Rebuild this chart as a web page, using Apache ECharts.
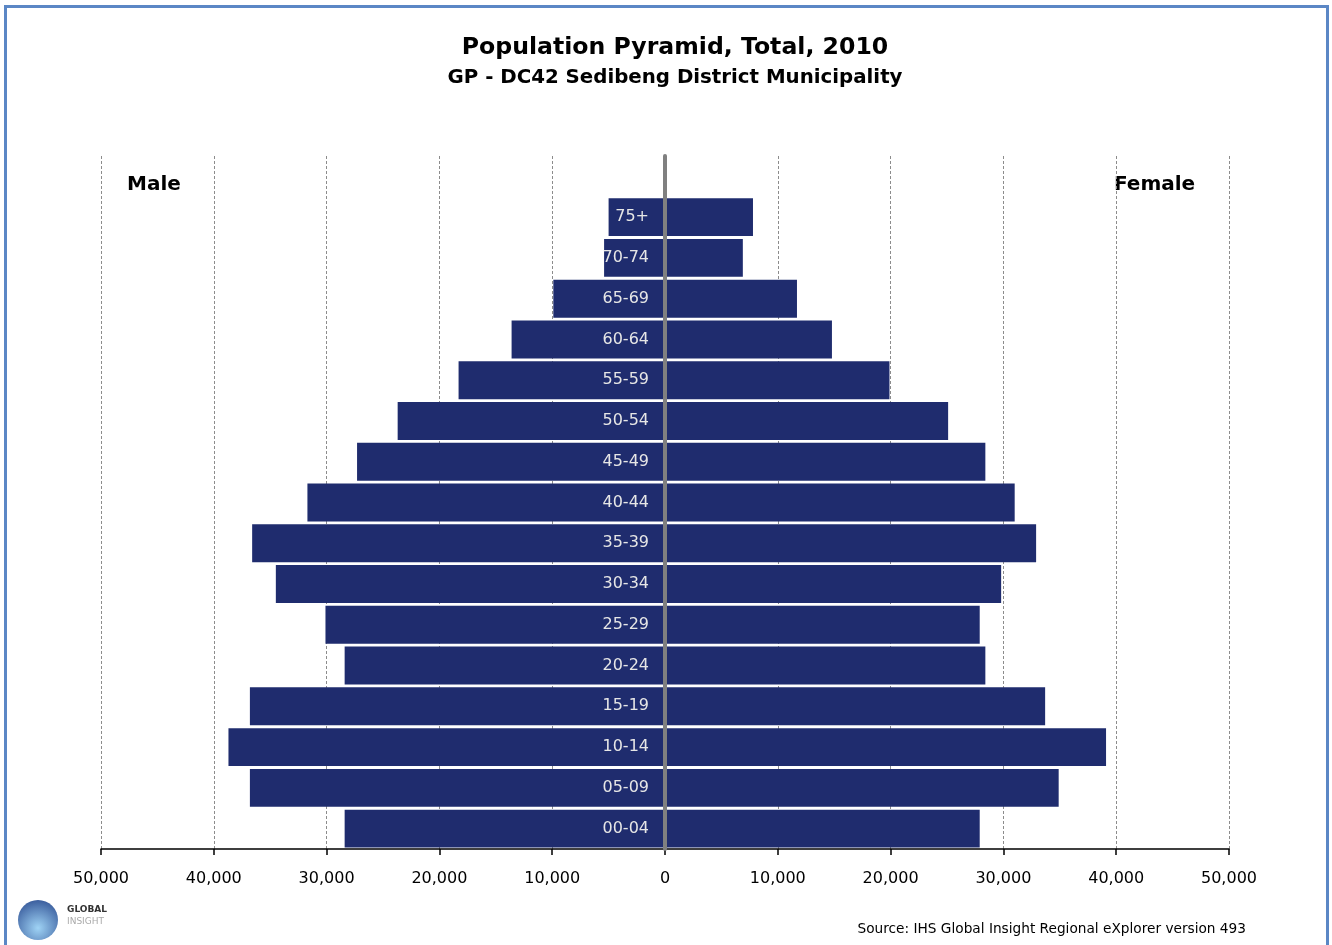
<!DOCTYPE html>
<html>
<head>
<meta charset="utf-8">
<script src="https://cdn.jsdelivr.net/npm/echarts@6/dist/echarts.min.js"></script>
<style>
html,body{margin:0;padding:0;background:#fff;}
#chart{width:1332px;height:945px;}
</style>
</head>
<body>
<div id="chart"></div>
<script>
// Age groups, bottom to top; the last blank slot is the empty band at the top of the plot
var ageGroups = ['00-04','05-09','10-14','15-19','20-24','25-29','30-34','35-39','40-44','45-49','50-54','55-59','60-64','65-69','70-74','75+',''];
var maleValues = [28400, 36800, 38700, 36800, 28400, 30100, 34500, 36600, 31700, 27300, 23700, 18300, 13600, 9900, 5400, 5000, null];
var femaleValues = [27900, 34900, 39100, 33700, 28400, 27900, 29800, 32900, 31000, 28400, 25100, 19900, 14800, 11700, 6900, 7800, null];
var xTicks = {min: -50000, max: 50000, interval: 10000};

var FONT = 'DejaVu Sans';
var BAR = '#1f2c6e';

function fmt(v){
  var s = String(Math.abs(v));
  return s.replace(/\B(?=(\d{3})+(?!\d))/g, ',');
}

var chart = echarts.init(document.getElementById('chart'), null, {renderer:'canvas'});
chart.setOption({
  animation: false,
  backgroundColor: '#ffffff',
  title: [{
    text: 'Population Pyramid, Total, 2010',
    left: 670, top: 31, textAlign: 'center',
    textStyle: {fontFamily: FONT, fontWeight: 'bold', fontSize: 23.6, color: '#000'}
  },{
    text: 'GP - DC42 Sedibeng District Municipality',
    left: 670, top: 63, textAlign: 'center',
    textStyle: {fontFamily: FONT, fontWeight: 'bold', fontSize: 19.8, color: '#000'}
  }],
  grid: {left: 101, right: 103, top: 156, bottom: 96, containLabel: false},
  xAxis: {
    type: 'value',
    min: xTicks.min, max: xTicks.max, interval: xTicks.interval,
    axisLine: {show: true, lineStyle: {color: '#000', width: 1.5}},
    axisTick: {show: true, length: 6, lineStyle: {color: '#000', width: 1.5}},
    axisLabel: {formatter: fmt, fontFamily: FONT, fontSize: 16, color: '#000', margin: 22},
    splitLine: {show: true, lineStyle: {color: '#8c8c8c', type: [3,2], width: 1}}
  },
  yAxis: {
    type: 'category',
    data: ageGroups,
    z: 10,
    axisLine: {show: true, onZero: true, lineStyle: {color: '#808080', width: 4}},
    axisTick: {show: false},
    axisLabel: {show: false},
    splitLine: {show: false}
  },
  series: [{
    name: 'Male', type: 'bar', stack: 'pop',
    data: maleValues.map(function(v){ return v == null ? null : -v; }),
    barCategoryGap: '7%',
    itemStyle: {color: BAR},
    label: {
      show: true, position: 'insideRight', distance: 16,
      formatter: '{b}',
      fontFamily: FONT, fontSize: 16, color: '#e6e6e6'
    },
    labelLayout: {hideOverlap: false}
  },{
    name: 'Female', type: 'bar', stack: 'pop',
    data: femaleValues,
    barCategoryGap: '7%',
    itemStyle: {color: BAR}
  }],
  graphic: [
    {type: 'rect', shape: {x: 5.5, y: 6.5, width: 1322, height: 950}, style: {fill: 'none', stroke: '#5b87c5', lineWidth: 3}, z: 100},
    {type: 'text', left: 127, top: 175, style: {text: 'Male', font: 'bold 20px "DejaVu Sans"', fill: '#000'}},
    {type: 'text', left: 1114, top: 175, style: {text: 'Female', font: 'bold 20px "DejaVu Sans"', fill: '#000'}},
    {type: 'text', right: 86, top: 922, style: {text: 'Source: IHS Global Insight Regional eXplorer version 493', font: '13.7px "DejaVu Sans"', fill: '#000'}},
    {type: 'circle', shape: {cx: 38, cy: 920, r: 20}, style: {fill: new echarts.graphic.RadialGradient(0.5, 0.7, 0.7, [{offset: 0, color: '#9fd3f5'}, {offset: 1, color: '#3b5e9e'}])}},
    {type: 'text', left: 67, top: 905, style: {text: 'GLOBAL', font: 'bold 9px "DejaVu Sans"', fill: '#333'}},
    {type: 'text', left: 67, top: 917, style: {text: 'INSIGHT', font: '9px "DejaVu Sans"', fill: '#aaa'}}
  ]
});
</script>
</body>
</html>
